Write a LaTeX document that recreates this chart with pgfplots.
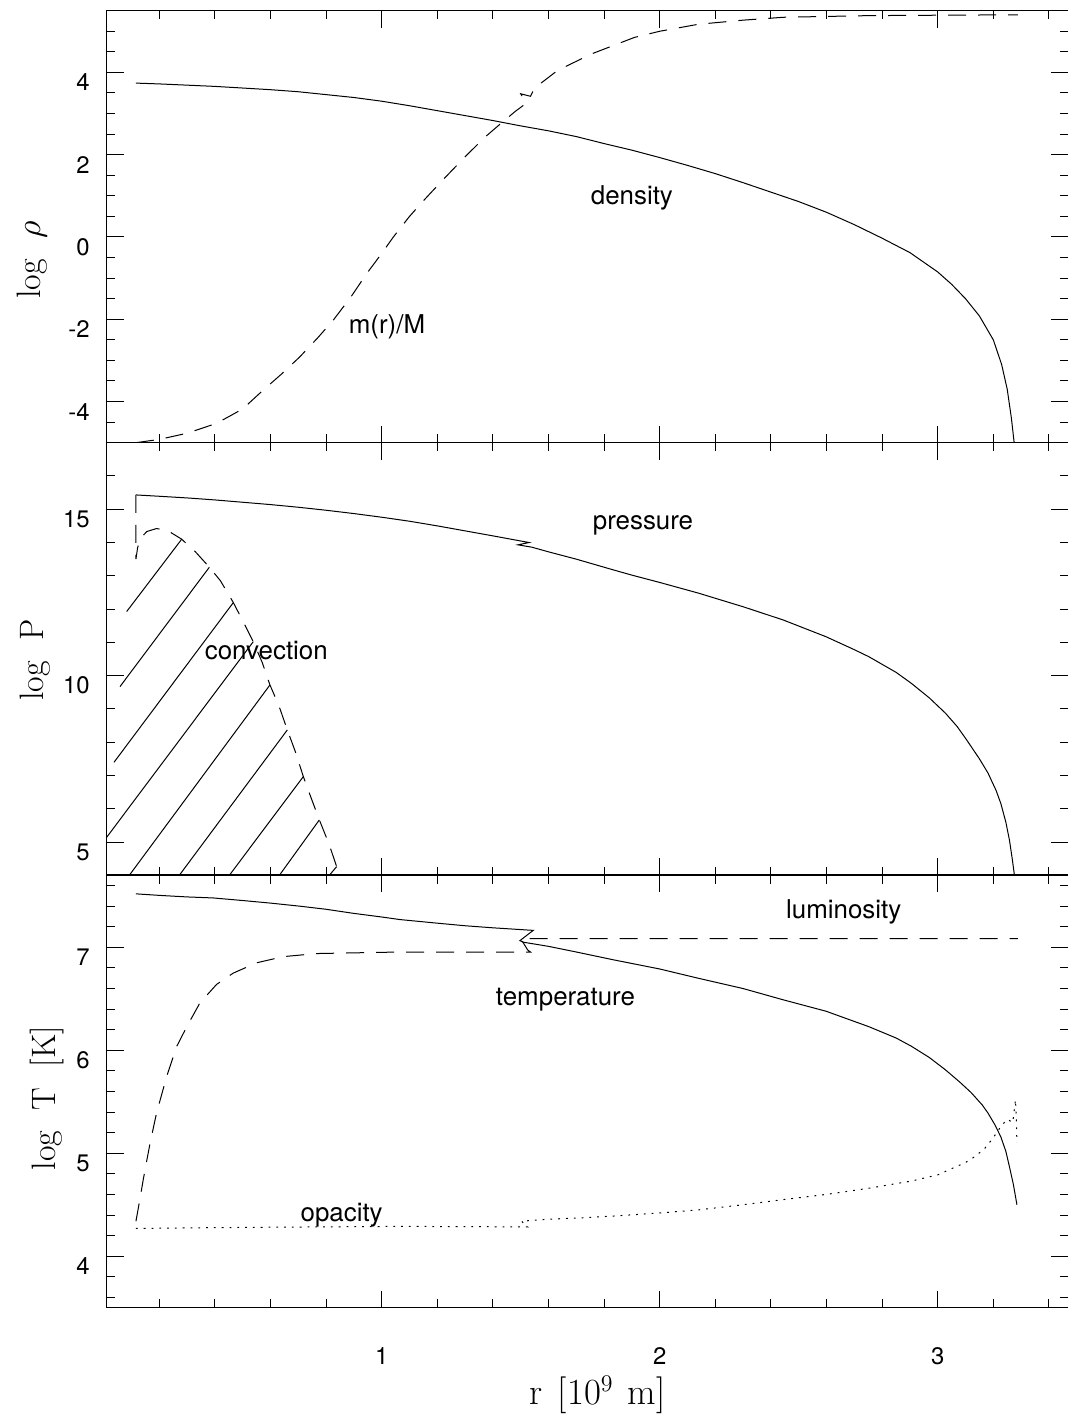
\documentclass[border=0pt]{standalone}
\usepackage{fontspec}
\newfontfamily\hv{TeX Gyre Heros}
\usepackage{pgfplots}
\pgfplotsset{compat=1.18}

\tikzset{
  mydash/.style={dash pattern=on 9bp off 6bp},
  mydot/.style={dash pattern=on 0.9bp off 3bp},
  lab/.style={font=\hv\fontsize{13}{15}\selectfont, anchor=base, inner sep=0pt},
}
\pgfplotsset{
  myax/.style={
    scale only axis, width=480.65bp,
    xmin=0.0108, xmax=3.4687,
    xtick={1,2,3},
    minor xtick={0.2,0.4,0.6,0.8,1.2,1.4,1.6,1.8,2.2,2.4,2.6,2.8,3.2,3.4},
    tick align=inside,
    major tick length=8.5bp, minor tick length=4.2bp,
    tick style={black, line width=0.5bp},
    minor tick style={black, line width=0.5bp},
    axis line style={line width=0.5bp},
    tick label style={font=\hv\fontsize{12}{14}\selectfont},
    yticklabel style={font=\hv\fontsize{12}{14}\selectfont, anchor=east, inner sep=0pt, xshift=-8.3bp, yshift=-5bp},
    xticklabel style={font=\hv\fontsize{12}{14}\selectfont, anchor=north, inner sep=0pt, yshift=-19.5bp},
    every axis y label/.style={rotate=90, anchor=base, font=\fontsize{17}{20}\selectfont},
    every axis x label/.style={at={(axis description cs:0.5,0)}, anchor=center, yshift=-43.5bp, xshift=5bp, font=\fontsize{18.5}{22}\selectfont},
    every axis plot/.append style={line width=0.5bp, black},
  },
}

\begin{document}
\begin{tikzpicture}
\useasboundingbox (0,0) rectangle (534bp,708bp);

% ---------------- panel 1: density ----------------
\begin{axis}[myax, at={(53.35bp,486.65bp)}, anchor=south west, height=216bp,
  ymin=-5, ymax=5.5,
  ytick={-4,-2,0,2,4}, yticklabels={-4,-2,0,2,4},
  minor ytick={-4.5,-3.5,-3,-2.5,-1.5,-1,-0.5,0.5,1,1.5,2.5,3,3.5,4.5,5},
  xticklabels={},
  ylabel={log\ \ $\rho$},
  ylabel style={at={(axis description cs:0,0.423)}, yshift=33.35bp},
]
\addplot[] coordinates {
(0.116,3.74)(0.2,3.72)(0.3,3.69)(0.4,3.66)(0.5,3.62)(0.6,3.58)(0.7,3.53)(0.8,3.46)
(0.9,3.39)(1.0,3.30)(1.1,3.19)(1.2,3.07)(1.3,2.95)(1.4,2.83)(1.5,2.70)(1.6,2.58)
(1.7,2.44)(1.8,2.27)(1.9,2.11)(2.0,1.93)(2.1,1.74)(2.2,1.54)(2.3,1.32)(2.4,1.09)
(2.5,0.86)(2.6,0.60)(2.7,0.30)(2.8,-0.03)(2.9,-0.38)(3.0,-0.85)(3.05,-1.15)(3.1,-1.50)
(3.15,-1.92)(3.2,-2.50)(3.23,-3.10)(3.25,-3.70)(3.265,-4.40)(3.275,-5.0)};
\addplot[mydash] coordinates {
(0.116,-5.0)(0.2,-4.92)(0.3,-4.77)(0.406,-4.53)(0.5,-4.18)(0.574,-3.72)(0.64,-3.33)
(0.706,-2.91)(0.77,-2.45)(0.826,-2.02)(0.89,-1.45)(0.946,-0.89)(1.0,-0.40)(1.042,0.0)
(1.10,0.50)(1.15,0.88)(1.219,1.38)(1.30,1.95)(1.372,2.43)(1.434,2.79)(1.48,3.05)
(1.52,3.25)(1.50,3.48)(1.535,3.42)(1.55,3.62)(1.633,4.05)(1.755,4.45)(1.909,4.85)
(2.0,5.0)(2.139,5.17)(2.3,5.27)(2.445,5.34)(2.752,5.38)(3.0,5.39)(3.288,5.40)};
\node[lab] at (axis cs:1.90,0.79) {density};
\node[lab] at (axis cs:1.019,-2.345) {m(r)/M};
\draw[line width=1bp] (rel axis cs:0,0) -- (rel axis cs:1,0);
\end{axis}

% ---------------- panel 2: pressure ----------------
\begin{axis}[myax, at={(53.35bp,270.35bp)}, anchor=south west, height=216.3bp,
  ymin=4, ymax=17,
  ytick={5,10,15}, yticklabels={5,10,15},
  minor ytick={6,7,8,9,11,12,13,14,16},
  xticklabels={},
  ylabel={log\ \ P},
  ylabel style={at={(axis description cs:0,0.498)}, yshift=31.7bp},
]
\addplot[] coordinates {
(0.116,15.43)(0.2,15.39)(0.3,15.34)(0.4,15.28)(0.5,15.21)(0.6,15.14)(0.7,15.06)
(0.8,14.97)(0.9,14.87)(1.0,14.76)(1.1,14.64)(1.2,14.50)(1.3,14.35)(1.4,14.20)
(1.53,14.0)(1.49,13.93)(1.54,13.86)(1.6,13.72)(1.7,13.50)(1.832,13.18)(1.9,13.02)
(2.0,12.80)(2.139,12.48)(2.3,12.07)(2.445,11.67)(2.598,11.17)(2.7,10.78)(2.752,10.57)
(2.85,10.10)(2.905,9.77)(2.97,9.33)(3.028,8.87)(3.07,8.47)(3.104,8.07)(3.15,7.50)
(3.181,7.07)(3.21,6.55)(3.227,6.16)(3.245,5.60)(3.258,5.06)(3.268,4.5)(3.276,4.0)};
\addplot[mydash] coordinates {
(0.116,15.43)(0.116,13.50)(0.122,13.85)(0.135,14.15)(0.155,14.33)(0.19,14.42)(0.23,14.36)
(0.2805,14.10)(0.33,13.72)(0.38,13.26)(0.42,12.85)(0.466,12.20)(0.50,11.65)(0.538,11.02)
(0.57,10.40)(0.598,9.72)(0.63,9.10)(0.6605,8.37)(0.69,7.70)(0.718,6.97)(0.745,6.35)
(0.776,5.66)(0.81,4.95)(0.838,4.26)(0.814,4.03)};
% hatching of the convective zone
\addplot[] coordinates {(0.0826,11.925)(0.2805,14.099)};
\addplot[] coordinates {(0.0586,9.670)(0.380,13.257)};
\addplot[] coordinates {(0.0371,7.396)(0.4663,12.195)};
\addplot[] coordinates {(0.0107,5.142)(0.5382,11.023)};
\addplot[] coordinates {(0.0922,4.0)(0.598,9.72)};
\addplot[] coordinates {(0.272,4.0)(0.6605,8.368)};
\addplot[] coordinates {(0.452,4.0)(0.718,6.965)};
\addplot[] coordinates {(0.632,4.0)(0.7756,5.663)};
\addplot[] coordinates {(0.8116,4.0)(0.838,4.26)};
\node[lab] at (axis cs:1.940,14.40) {pressure};
\node[lab] at (axis cs:0.585,10.47) {convection};
\draw[line width=1bp] (rel axis cs:0,0) -- (rel axis cs:1,0);
\end{axis}

% ---------------- panel 3: temperature ----------------
\begin{axis}[myax, at={(53.35bp,54.15bp)}, anchor=south west, height=216.2bp,
  ymin=3.5, ymax=7.7,
  ytick={4,5,6,7}, yticklabels={4,5,6,7},
  minor ytick={3.6,3.8,4.2,4.4,4.6,4.8,5.2,5.4,5.6,5.8,6.2,6.4,6.6,6.8,7.2,7.4,7.6},
  xticklabels={1,2,3},
  xlabel={r\hspace{0.42em}[10$^9$\hspace{0.38em}m]},
  ylabel={log\ \ T\ \ [K]},
  ylabel style={at={(axis description cs:0,0.485)}, yshift=25.85bp},
]
\addplot[] coordinates {
(0.116,7.52)(0.2,7.505)(0.3,7.49)(0.394,7.48)(0.5,7.455)(0.6,7.43)(0.706,7.40)(0.8,7.37)
(0.9,7.33)(1.0,7.295)(1.066,7.27)(1.2,7.235)(1.3,7.21)(1.4,7.19)(1.545,7.165)(1.497,7.065)
(1.51,7.05)(1.6,7.01)(1.7,6.955)(1.832,6.88)(2.0,6.79)(2.139,6.70)(2.3,6.60)(2.445,6.49)
(2.598,6.38)(2.752,6.23)(2.85,6.12)(2.905,6.04)(2.97,5.93)(3.028,5.81)(3.08,5.69)(3.12,5.59)
(3.16,5.47)(3.181,5.39)(3.205,5.28)(3.227,5.16)(3.245,5.02)(3.258,4.87)(3.272,4.70)(3.285,4.50)};
\addplot[mydash] coordinates {
(0.116,4.34)(0.13,4.55)(0.142,4.74)(0.155,4.93)(0.167,5.10)(0.19,5.39)(0.227,5.75)
(0.263,6.04)(0.299,6.23)(0.346,6.46)(0.406,6.64)(0.466,6.75)(0.55,6.85)(0.646,6.91)
(0.766,6.94)(1.066,6.955)(1.535,6.955)(1.525,6.975)(1.50,7.085)(3.288,7.085)};
\addplot[mydot] coordinates {
(0.116,4.27)(0.5,4.28)(1.066,4.29)(1.525,4.285)(1.503,4.34)(1.6,4.36)(1.7,4.37)(1.832,4.39)
(2.0,4.42)(2.139,4.45)(2.3,4.50)(2.445,4.55)(2.598,4.60)(2.752,4.66)(2.905,4.73)(3.0,4.79)
(3.058,4.86)(3.1,4.91)(3.135,4.97)(3.17,5.05)(3.194,5.13)(3.215,5.21)(3.227,5.26)(3.25,5.33)
(3.27,5.30)(3.28,5.52)(3.283,5.30)(3.285,5.10)};
\node[lab] at (axis cs:2.662,7.279) {luminosity};
\node[lab] at (axis cs:1.661,6.437) {temperature};
\node[lab] at (axis cs:0.856,4.34) {opacity};
\draw[line width=1bp] (rel axis cs:0,0) -- (rel axis cs:1,0);
\end{axis}
\end{tikzpicture}
\end{document}
